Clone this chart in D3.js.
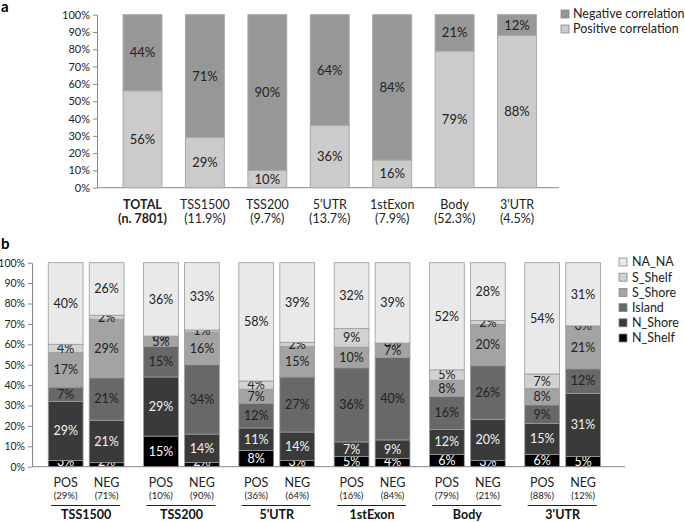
<!DOCTYPE html>
<html>
<head>
<meta charset="utf-8">
<script src="https://cdn.jsdelivr.net/npm/d3@7"></script>
<style>
  body { margin: 0; background: #fff; }
  svg { font-family: Lato, "Open Sans", sans-serif; }
</style>
</head>
<body>
<div id="chart"></div>
<script>
// panel a
const regionsA = ["TOTAL", "TSS1500", "TSS200", "5'UTR", "1stExon", "Body", "3'UTR"];
const regionSubA = ["(n. 7801)", "(11.9%)", "(9.7%)", "(13.7%)", "(7.9%)", "(52.3%)", "(4.5%)"];
const positiveA = [56, 29, 10, 36, 16, 79, 88];
const negativeA = [44, 71, 90, 64, 84, 21, 12];
const seriesA = ["Positive correlation", "Negative correlation"];

// panel b
const regionsB = ["TSS1500", "TSS200", "5'UTR", "1stExon", "Body", "3'UTR"];
const groupsB = ["POS", "NEG"];
const groupShareB = [
  ["(29%)", "(71%)"], ["(10%)", "(90%)"], ["(36%)", "(64%)"],
  ["(16%)", "(84%)"], ["(79%)", "(21%)"], ["(88%)", "(12%)"]
];
const seriesB = ["N_Shelf", "N_Shore", "Island", "S_Shore", "S_Shelf", "NA_NA"];
// one row per bar: TSS1500 POS, TSS1500 NEG, TSS200 POS, ...  order = seriesB
const valuesB = [
  [3, 29, 7, 17, 4, 40],
  [2, 21, 21, 29, 2, 26],
  [15, 29, 15, 5, 0, 36],
  [2, 14, 34, 16, 1, 33],
  [8, 11, 12, 7, 4, 58],
  [3, 14, 27, 15, 2, 39],
  [5, 7, 36, 10, 9, 32],
  [4, 9, 40, 7, 0, 39],
  [6, 12, 16, 8, 5, 52],
  [3, 20, 26, 20, 2, 28],
  [6, 15, 9, 8, 7, 54],
  [5, 31, 12, 21, 0, 31]
];
const yTicks = [0, 0.1, 0.2, 0.3, 0.4, 0.5, 0.6, 0.7, 0.8, 0.9, 1];

const width = 685, height = 522;
const svg = d3.select("#chart").append("svg")
    .attr("width", width)
    .attr("height", height);

const pct = d3.format(".0%");

// ---------- panel a ----------
const colA = d3.scaleOrdinal().domain(seriesA).range(["#cbcbcb", "#979797"]);
const xA = d3.scaleBand().domain(regionsA).range([99.5, 560]).padding(0.377);
const yA = d3.scaleLinear().domain([0, 1]).range([187.7, 14.7]);

svg.append("text").attr("x", 1).attr("y", 12)
    .attr("font-weight", "bold").attr("font-size", 15).text("a");

const axA = svg.append("g").attr("transform", "translate(97,0)")
    .call(d3.axisLeft(yA).tickValues(yTicks).tickFormat(pct).tickSize(4).tickSizeOuter(0));
axA.selectAll("text").attr("font-size", 11).attr("fill", "#222").attr("font-family", "Lato, sans-serif");
axA.selectAll("line, path").attr("stroke", "#888");

svg.append("line").attr("x1", 97).attr("x2", 559)
    .attr("y1", yA(0)).attr("y2", yA(0)).attr("stroke", "#888");

const dataA = regionsA.map((r, i) => ({
  region: r,
  "Positive correlation": positiveA[i] / 100,
  "Negative correlation": negativeA[i] / 100
}));
const stackA = d3.stack().keys(seriesA)(dataA);

const layA = svg.selectAll(".layA").data(stackA).enter().append("g");
layA.selectAll("rect").data(d => d.map(v => ({ key: d.key, v: v })))
  .enter().append("rect")
    .attr("x", d => xA(d.v.data.region))
    .attr("y", d => yA(d.v[1]))
    .attr("width", xA.bandwidth())
    .attr("height", d => yA(d.v[0]) - yA(d.v[1]))
    .attr("fill", d => colA(d.key))
    .attr("stroke", "#a8a8a8")
    .attr("stroke-width", 1);
layA.selectAll("text").data(d => d.map(v => ({ key: d.key, v: v })))
  .enter().append("text")
    .attr("x", d => xA(d.v.data.region) + xA.bandwidth() / 2)
    .attr("y", d => (yA(d.v[0]) + yA(d.v[1])) / 2)
    .attr("dy", "0.35em")
    .attr("text-anchor", "middle")
    .attr("font-size", 13)
    .attr("fill", "#222")
    .text(d => pct(d.v[1] - d.v[0]));

regionsA.forEach((r, i) => {
  const cx = xA(r) + xA.bandwidth() / 2;
  svg.append("text").attr("x", cx).attr("y", 209).attr("text-anchor", "middle")
      .attr("font-size", 12.5).attr("fill", "#222")
      .attr("font-weight", i === 0 ? "bold" : "normal").text(r);
  svg.append("text").attr("x", cx).attr("y", 223).attr("text-anchor", "middle")
      .attr("font-size", 12.5).attr("fill", "#222")
      .attr("font-weight", i === 0 ? "bold" : "normal").text(regionSubA[i]);
});

// legend a
["Negative correlation", "Positive correlation"].forEach((k, i) => {
  svg.append("rect").attr("x", 561).attr("y", 10 + i * 15).attr("width", 8).attr("height", 8)
      .attr("fill", colA(k)).attr("stroke", "#888").attr("stroke-width", 0.8);
  svg.append("text").attr("x", 573).attr("y", 14 + i * 15).attr("dy", "0.35em")
      .attr("font-size", 12.5).attr("fill", "#222").text(k);
});

// ---------- panel b ----------
const colB = d3.scaleOrdinal().domain(seriesB)
    .range(["#000000", "#3a3a3a", "#686868", "#a3a3a3", "#d2d2d2", "#e9e9e9"]);
const txtB = d3.scaleOrdinal().domain(seriesB)
    .range(["#fff", "#f2f2f2", "#222", "#222", "#222", "#222"]);
const xB = d3.scaleBand().domain(regionsB).range([38.5, 610.3]);
const xInner = d3.scaleBand().domain(groupsB).range([-37.9, 37.9]).paddingInner(0.15);
const yB = d3.scaleLinear().domain([0, 1]).range([466.7, 262.7]);

svg.append("text").attr("x", 1).attr("y", 249)
    .attr("font-weight", "bold").attr("font-size", 15).text("b");

const axB = svg.append("g").attr("transform", "translate(32,0)")
    .call(d3.axisLeft(yB).tickValues(yTicks).tickFormat(pct).tickSize(4).tickSizeOuter(0));
axB.selectAll("text").attr("font-size", 10.5).attr("fill", "#222").attr("font-family", "Lato, sans-serif");
axB.selectAll("line, path").attr("stroke", "#888");

svg.append("line").attr("x1", 32).attr("x2", 625)
    .attr("y1", yB(0)).attr("y2", yB(0)).attr("stroke", "#888");

const dataB = [];
regionsB.forEach((r, i) => {
  groupsB.forEach((g, j) => {
    const row = { region: r, group: g };
    seriesB.forEach((s, k) => { row[s] = valuesB[i * 2 + j][k]; });
    dataB.push(row);
  });
});
const stackB = d3.stack().keys(seriesB).offset(d3.stackOffsetExpand)(dataB);
const barX = d => xB(d.data.region) + xB.bandwidth() / 2 + xInner(d.data.group);

const layB = svg.selectAll(".layB").data(stackB).enter().append("g");
layB.selectAll("rect").data(d => d.map(v => ({ key: d.key, v: v })))
  .enter().append("rect")
    .attr("x", d => barX(d.v))
    .attr("y", d => yB(d.v[1]))
    .attr("width", xInner.bandwidth())
    .attr("height", d => yB(d.v[0]) - yB(d.v[1]))
    .attr("fill", d => colB(d.key))
    .attr("stroke", "#9a9a9a")
    .attr("stroke-width", 0.8);
layB.selectAll("text").data(d => d.map(v => ({ key: d.key, v: v })))
  .enter().append("text")
    .attr("x", d => barX(d.v) + xInner.bandwidth() / 2)
    .attr("y", d => Math.min((yB(d.v[0]) + yB(d.v[1])) / 2, yB(0) - 5))
    .attr("dy", "0.35em")
    .attr("text-anchor", "middle")
    .attr("font-size", 12.5)
    .attr("fill", d => txtB(d.key))
    .text(d => d.v.data[d.key] + "%");

regionsB.forEach((r, i) => {
  const cx = xB(r) + xB.bandwidth() / 2;
  groupsB.forEach((g, j) => {
    const gx = cx + xInner(g) + xInner.bandwidth() / 2;
    svg.append("text").attr("x", gx).attr("y", 487).attr("text-anchor", "middle")
        .attr("font-size", 12.5).attr("fill", "#222").text(g);
    svg.append("text").attr("x", gx).attr("y", 499).attr("text-anchor", "middle")
        .attr("font-size", 9.5).attr("fill", "#222").text(groupShareB[i][j]);
  });
  svg.append("line").attr("x1", cx - 35).attr("x2", cx + 34)
      .attr("y1", 505.5).attr("y2", 505.5).attr("stroke", "#222").attr("stroke-width", 1.2);
  svg.append("text").attr("x", cx).attr("y", 519).attr("text-anchor", "middle")
      .attr("font-size", 12.5).attr("font-weight", "bold").attr("fill", "#111").text(r);
});

// legend b
seriesB.slice().reverse().forEach((k, i) => {
  svg.append("rect").attr("x", 619).attr("y", 258 + i * 15.2).attr("width", 8).attr("height", 8)
      .attr("fill", colB(k)).attr("stroke", "#888").attr("stroke-width", 0.8);
  svg.append("text").attr("x", 632).attr("y", 262 + i * 15.2).attr("dy", "0.35em")
      .attr("font-size", 12.5).attr("fill", "#222").text(k);
});
</script>
</body>
</html>
